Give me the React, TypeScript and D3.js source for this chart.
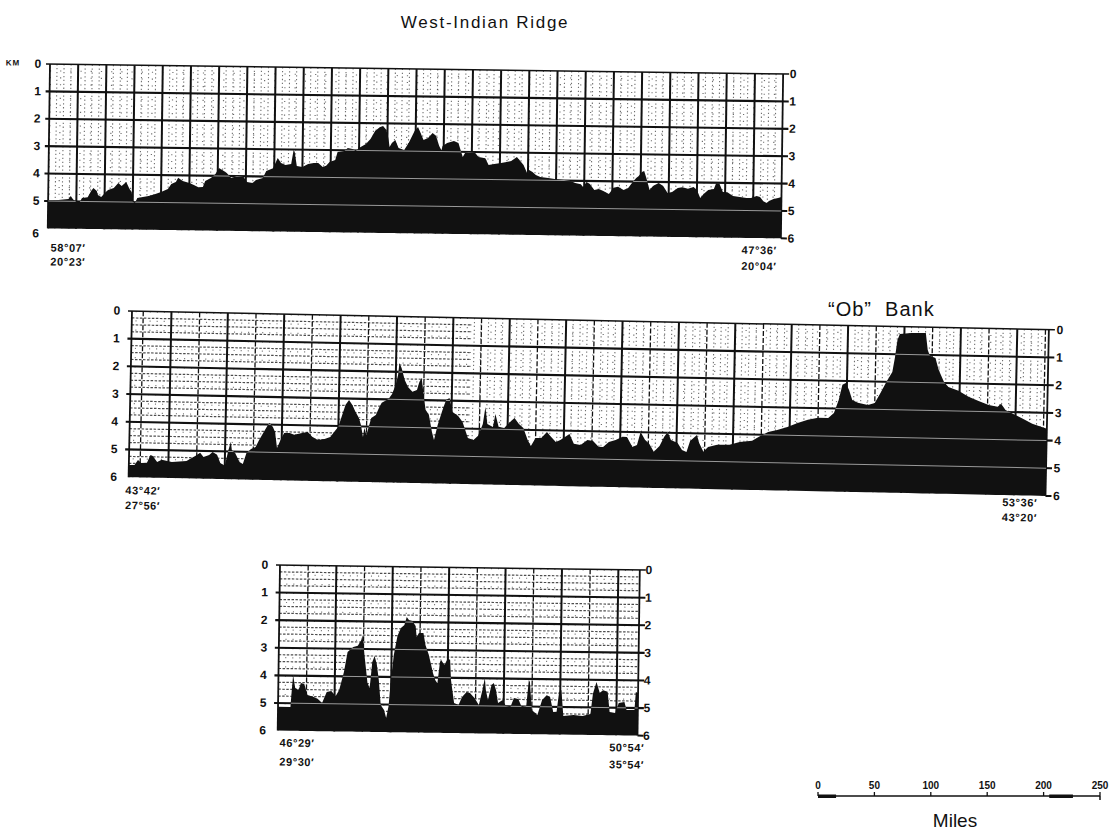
import React from "react";
import * as d3 from "d3";

// Echo-sounding profiles: [along-track distance (miles), depth (km)]
const ridgeProfile: [number, number][] = [
  [0,4.96],[9,4.96],[18,4.92],[20,4.81],[22,4.92],[25,5.02],[28,5.02],[30,4.87],[35,4.84],[38,4.61],[40,4.50],[43,4.61],[44,4.76],[47,4.83],[51,4.64],[53,4.57],[58,4.49],[62,4.31],[65,4.42],[69,4.27],[72,4.52],[74,4.63],[75,4.99],[77,5.03],[79,4.85],[84,4.81],[89,4.77],[95,4.69],[100,4.62],[106,4.50],[109,4.32],[113,4.24],[115,4.09],[119,4.20],[122,4.24],[125,4.27],[129,4.34],[133,4.42],[137,4.41],[139,4.19],[144,4.08],[148,3.93],[151,3.71],[154,3.78],[158,3.89],[162,4.07],[167,3.99],[173,4.03],[176,4.21],[181,4.24],[184,4.13],[190,4.05],[193,3.80],[199,3.69],[203,3.32],[206,3.50],[210,3.57],[215,3.53],[217,3.02],[218,3.09],[220,3.60],[225,3.63],[230,3.52],[235,3.48],[239,3.48],[243,3.62],[246,3.58],[249,3.44],[254,3.36],[256,3.07],[262,3.03],[265,2.92],[269,2.95],[272,3.02],[276,2.88],[281,2.76],[285,2.58],[289,2.28],[293,2.14],[296,2.10],[299,2.24],[301,2.57],[302,2.86],[304,2.71],[307,2.60],[310,2.89],[315,2.96],[319,2.70],[324,2.26],[327,2.12],[329,2.30],[332,2.59],[336,2.51],[340,2.33],[343,2.43],[346,2.80],[348,2.95],[349,2.80],[353,2.69],[359,2.61],[363,2.68],[365,2.93],[367,3.19],[369,3.04],[372,3.00],[378,3.04],[381,3.18],[387,3.22],[390,3.47],[395,3.43],[401,3.39],[406,3.35],[410,3.31],[415,3.16],[418,3.31],[421,3.45],[425,3.81],[426,3.63],[429,3.70],[432,3.81],[436,3.88],[443,3.91],[450,3.95],[457,3.98],[463,4.01],[467,4.08],[472,4.12],[474,4.22],[477,4.04],[480,4.11],[484,4.33],[488,4.29],[492,4.36],[497,4.47],[501,4.24],[505,4.20],[510,4.31],[514,4.24],[518,4.02],[521,3.87],[523,3.80],[526,3.65],[528,3.61],[530,3.86],[533,4.30],[536,4.15],[541,4.04],[545,4.15],[549,4.40],[553,4.36],[558,4.21],[562,4.18],[567,4.24],[572,4.17],[575,4.28],[578,4.57],[581,4.42],[585,4.27],[590,4.23],[592,4.01],[595,4.05],[598,4.34],[602,4.34],[607,4.48],[613,4.51],[619,4.54],[623,4.54],[628,4.47],[631,4.50],[634,4.65],[637,4.72],[639,4.64],[643,4.57],[647,4.53],[650,4.49],
];

const obBankProfile: [number, number][] = [
  [0,5.56],[5,5.56],[8,5.37],[11,5.48],[16,5.47],[19,5.18],[21,5.22],[25,5.43],[29,5.35],[38,5.42],[51,5.37],[59,5.18],[63,5.07],[66,5.22],[71,5.14],[74,5.03],[78,5.13],[81,5.42],[85,5.52],[88,4.95],[90,4.65],[91,4.94],[94,5.05],[98,5.37],[101,5.44],[104,5.04],[108,4.89],[112,4.82],[115,4.56],[119,4.27],[122,4.05],[124,3.94],[127,4.08],[129,4.26],[131,4.84],[134,4.55],[137,4.29],[142,4.29],[146,4.35],[153,4.28],[158,4.24],[162,4.41],[167,4.52],[173,4.48],[178,4.40],[182,4.18],[185,4.03],[189,3.49],[191,3.23],[194,3.05],[197,3.23],[200,3.48],[203,3.69],[205,3.95],[207,4.38],[208,4.05],[210,4.30],[214,3.69],[218,3.57],[221,3.28],[223,3.13],[229,2.99],[232,2.80],[235,2.48],[237,2.11],[238,1.68],[240,1.86],[243,2.29],[246,2.54],[250,2.71],[254,2.64],[256,2.35],[258,2.20],[260,2.82],[262,3.35],[265,3.53],[268,4.14],[270,4.43],[273,3.89],[277,3.34],[280,2.98],[283,2.91],[286,3.41],[291,3.55],[295,3.76],[300,4.34],[305,4.40],[309,4.25],[313,3.82],[315,3.20],[317,3.82],[322,3.92],[324,3.45],[327,3.91],[332,3.95],[338,3.69],[341,3.58],[345,3.79],[349,3.93],[353,4.36],[356,4.58],[360,4.29],[365,4.28],[370,4.06],[373,4.20],[378,4.42],[382,4.34],[390,4.12],[394,4.47],[400,4.51],[406,4.32],[411,4.35],[416,4.56],[420,4.56],[425,4.38],[431,4.30],[437,4.18],[441,4.18],[446,4.54],[450,4.46],[453,3.99],[457,4.27],[461,4.42],[465,4.70],[470,4.48],[474,4.15],[477,3.97],[480,4.26],[486,4.36],[490,4.61],[494,4.68],[497,4.28],[503,4.06],[505,4.34],[509,4.66],[513,4.48],[521,4.40],[532,4.39],[541,4.28],[552,4.23],[558,4.08],[566,3.90],[574,3.82],[583,3.70],[592,3.55],[601,3.43],[610,3.35],[619,3.35],[624,3.16],[628,2.69],[631,2.14],[634,2.07],[637,2.32],[640,2.68],[645,2.78],[654,2.85],[660,2.77],[665,2.40],[670,2.00],[675,1.64],[677,1.13],[679,0.48],[681,0.26],[691,0.22],[704,0.21],[706,0.82],[708,1.03],[713,1.10],[716,1.53],[721,1.96],[725,2.14],[734,2.27],[743,2.48],[752,2.62],[761,2.76],[769,2.82],[772,2.71],[776,2.93],[783,3.07],[792,3.24],[800,3.41],[813,3.58],
];

const southProfile: [number, number][] = [
  [0,5.14],[11,5.14],[12,4.52],[13,3.98],[15,4.45],[18,4.52],[20,4.26],[23,4.30],[26,4.70],[31,4.76],[35,4.83],[39,4.98],[43,4.58],[47,4.54],[51,4.72],[54,4.50],[58,3.84],[61,3.12],[66,2.93],[70,2.89],[73,2.68],[74,2.49],[76,3.22],[79,4.23],[81,4.41],[83,3.47],[85,3.25],[87,3.54],[89,4.12],[91,5.02],[94,5.20],[96,5.49],[98,5.05],[99,4.47],[102,3.20],[105,2.51],[108,2.22],[111,2.11],[113,1.82],[115,1.93],[118,1.96],[121,2.14],[122,2.54],[124,2.39],[128,2.39],[130,2.83],[133,3.18],[137,3.84],[139,4.09],[141,4.20],[143,3.43],[144,3.36],[147,3.54],[150,3.29],[152,3.36],[153,4.08],[156,4.91],[160,4.98],[163,4.69],[167,4.51],[170,4.54],[174,4.72],[178,4.97],[181,4.43],[183,3.99],[184,4.42],[186,4.79],[189,4.24],[191,4.17],[193,4.42],[195,4.89],[199,4.78],[202,4.99],[206,5.03],[209,4.70],[213,4.74],[216,5.02],[220,4.99],[222,4.04],[223,4.11],[225,5.13],[230,5.30],[234,4.76],[238,4.58],[241,4.64],[244,5.19],[247,5.18],[249,4.46],[251,4.39],[253,5.33],[262,5.29],[270,5.32],[277,5.24],[279,4.51],[282,4.08],[285,4.47],[288,4.37],[292,4.43],[294,5.16],[299,5.19],[302,4.83],[307,4.79],[309,5.08],[316,5.07],[317,4.42],[319,4.46],
];

const depthTicks = [0, 1, 2, 3, 4, 5, 6];
const ridgeEnds = { left: ["58°07′", "20°23′"], right: ["47°36′", "20°04′"] };
const obEnds = { left: ["43°42′", "27°56′"], right: ["53°36′", "43°20′"] };
const southEnds = { left: ["46°29′", "29°30′"], right: ["50°54′", "35°54′"] };
const scaleTicks = [0, 50, 100, 150, 200, 250];

const PX_PER_MILE = 1.128;
const GRID_MILES = 25;
const INK = "#111";
const LABEL_FONT = "'Liberation Sans', Arial, sans-serif";

type PanelCfg = {
  id: string;
  profile: [number, number][];
  length: number;
  x0: number;
  y0: number;
  kmPx: number;
  angle: number;
  gridOffset: number;
  alternate: "none" | "oddHeavy" | "evenHeavy";
  denseFrom: number; // mile where the fine dotted ruling becomes dense
  ends: { left: string[]; right: string[] };
  leftLabelX: number;
  rightLabelDx: number;
  endDy: { left: number[]; right: number[] };
  endRightDx: number;
  endLeftDx: number;
  km?: boolean;
};

const panels: PanelCfg[] = [
  {
    id: "ridge", profile: ridgeProfile, length: 650, x0: 50, y0: 64, kmPx: 27.4, angle: 0.78,
    gridOffset: 0, alternate: "none", denseFrom: 0, ends: ridgeEnds,
    leftLabelX: -12, rightLabelDx: 10, endDy: { left: [23, 37], right: [16, 32] },
    endRightDx: -4, endLeftDx: 3, km: true,
  },
  {
    id: "ob", profile: obBankProfile, length: 813, x0: 132, y0: 311, kmPx: 27.7, angle: 1.17,
    gridOffset: 10, alternate: "oddHeavy", denseFrom: 300, ends: obEnds,
    leftLabelX: -15, rightLabelDx: 11, endDy: { left: [17, 32], right: [11, 26] },
    endRightDx: -8, endLeftDx: -3,
  },
  {
    id: "south", profile: southProfile, length: 319, x0: 280, y0: 565, kmPx: 27.6, angle: 0.8,
    gridOffset: 0, alternate: "evenHeavy", denseFrom: 10000, ends: southEnds,
    leftLabelX: -15, rightLabelDx: 9, endDy: { left: [16, 35], right: [16, 33] },
    endRightDx: 7, endLeftDx: 2,
  },
];

function Panel({ cfg }: { cfg: PanelCfg }) {
  const w = cfg.length * PX_PER_MILE;
  const h = 6 * cfg.kmPx;
  const x = d3.scaleLinear().domain([0, cfg.length]).range([0, w]);
  const y = d3.scaleLinear().domain([0, 6]).range([0, h]);
  const area = d3
    .area<[number, number]>()
    .x((d) => x(d[0]))
    .y0(y(6))
    .y1((d) => y(d[1]));
  const seabed = area(cfg.profile) || "";

  // major vertical rulings every 25 miles
  const majors: { m: number; k: number }[] = [];
  for (let k = 0; cfg.gridOffset + k * GRID_MILES < cfg.length - 2; k++) {
    const m = cfg.gridOffset + k * GRID_MILES;
    if (m > 1) majors.push({ m, k });
  }
  // fine vertical rulings (quarter cells)
  const minorV: number[] = [];
  const step = GRID_MILES / 4;
  for (let i = -8; ; i++) {
    const m = cfg.gridOffset + i * step;
    if (m >= cfg.length - 1) break;
    if (m <= 1 || ((i % 4) + 4) % 4 === 0) continue;
    minorV.push(m);
  }
  const minorH = d3.range(0.25, 6, 0.25).filter((d) => Math.abs(d - Math.round(d)) > 0.01);
  const denseX = Math.min(w, x(Math.min(cfg.denseFrom, cfg.length)));

  const isHeavy = (k: number) =>
    cfg.alternate === "none" ? true : cfg.alternate === "oddHeavy" ? k % 2 === 1 : k % 2 === 0;

  return (
    <g transform={`translate(${cfg.x0},${cfg.y0}) rotate(${cfg.angle})`}>
      <defs>
        <clipPath id={`bed-${cfg.id}`}>
          <path d={seabed} />
        </clipPath>
      </defs>

      {/* fine dotted ruling */}
      <g stroke={INK} fill="none">
        {minorH.map((d) => (
          <g key={`mh${d}`}>
            {denseX > 0 && (
              <line x1={0} x2={denseX} y1={y(d)} y2={y(d)} strokeWidth={1.2} strokeDasharray="2.5 1.5" opacity={0.75} />
            )}
            {denseX < w && (
              <line x1={denseX} x2={w} y1={y(d)} y2={y(d)} strokeWidth={1.1} strokeDasharray="1.2 9" opacity={0.6} />
            )}
          </g>
        ))}
        {minorV.map((m) => (
          <line
            key={`mv${m}`}
            x1={x(m)} x2={x(m)} y1={0} y2={h}
            strokeWidth={1.1}
            strokeDasharray={m >= cfg.denseFrom ? "1.3 2.6" : "1.2 8"}
            opacity={m >= cfg.denseFrom ? 0.6 : 0.55}
          />
        ))}
      </g>

      {/* major ruling */}
      <g stroke={INK} fill="none">
        {majors.map(({ m, k }) => (
          <line
            key={`v${m}`}
            x1={x(m)} x2={x(m)} y1={0} y2={h}
            strokeWidth={isHeavy(k) ? 2 : 1.3}
            strokeDasharray={isHeavy(k) ? undefined : "5 2"}
          />
        ))}
        {depthTicks.slice(0, 6).map((d) => (
          <line key={`h${d}`} x1={-4} x2={w + 6} y1={y(d)} y2={y(d)} strokeWidth={d === 0 ? 1.5 : 2.1} />
        ))}
        <line x1={0} x2={0} y1={0} y2={h} strokeWidth={1.8} />
        <line x1={w} x2={w} y1={0} y2={h} strokeWidth={1.8} />
        <line x1={w} x2={w + 6} y1={h} y2={h} strokeWidth={2} />
      </g>

      {/* sea floor */}
      <path d={seabed} fill={INK} />
      <g clipPath={`url(#bed-${cfg.id})`} stroke="#9a9a9a" strokeWidth={1}>
        {depthTicks.slice(1, 6).map((d) => (
          <line key={`g${d}`} x1={0} x2={w} y1={y(d)} y2={y(d)} />
        ))}
      </g>

      {/* depth labels */}
      <g fontFamily={LABEL_FONT} fontWeight="bold" fontSize={12} fill={INK} textAnchor="middle">
        {depthTicks.map((d) => (
          <text key={`l${d}`} x={cfg.leftLabelX} y={y(d) + 4 + (d === 6 && cfg.km ? 5 : 0)}>
            {d}
          </text>
        ))}
        {depthTicks.map((d) => (
          <text key={`r${d}`} x={w + cfg.rightLabelDx} y={y(d) + 4}>
            {d}
          </text>
        ))}
        {cfg.km && (
          <text x={-37} y={y(0) + 2} fontSize={8} letterSpacing={1}>
            KM
          </text>
        )}
      </g>

      {/* end positions */}
      <g fontFamily={LABEL_FONT} fontWeight="bold" fontSize={11} fill={INK} letterSpacing={0.6}>
        {cfg.ends.left.map((t, i) => (
          <text key={`el${i}`} x={cfg.endLeftDx} y={h + cfg.endDy.left[i]}>
            {t}
          </text>
        ))}
        {cfg.ends.right.map((t, i) => (
          <text key={`er${i}`} x={w + cfg.endRightDx} y={h + cfg.endDy.right[i]} textAnchor="end">
            {t}
          </text>
        ))}
      </g>
    </g>
  );
}

function ScaleBar() {
  const sx = d3.scaleLinear().domain([0, 250]).range([818, 1100]);
  const yBar = 796;
  const thick: [number, number][] = [
    [0, 16],
    [205, 226],
  ];
  return (
    <g>
      <line x1={sx(0)} x2={sx(250)} y1={yBar} y2={yBar} stroke={INK} strokeWidth={1.6} />
      {thick.map(([a, b]) => (
        <rect key={a} x={sx(a)} y={yBar - 1.5} width={sx(b) - sx(a)} height={3.5} fill={INK} />
      ))}
      {scaleTicks.map((t) => (
        <line key={`t${t}`} x1={sx(t)} x2={sx(t)} y1={yBar - 4} y2={yBar} stroke={INK} strokeWidth={1.3} />
      ))}
      <line x1={sx(250)} x2={sx(250)} y1={yBar} y2={yBar + 4} stroke={INK} strokeWidth={1.5} />
      <g fontFamily={LABEL_FONT} fontWeight="bold" fontSize={10} fill={INK} textAnchor="middle">
        {scaleTicks.map((t) => (
          <text key={`s${t}`} x={sx(t)} y={789}>
            {t}
          </text>
        ))}
      </g>
      <text x={955} y={827} fontFamily={LABEL_FONT} fontSize={19} fill={INK} textAnchor="middle">
        Miles
      </text>
    </g>
  );
}

export default function App() {
  return (
    <svg
      width={1118}
      height={833}
      viewBox="0 0 1118 833"
      style={{ display: "block", position: "absolute", left: 0, top: 0, background: "#fff" }}
    >
      <rect width={1118} height={833} fill="#fff" />
      <text x={485} y={28} fontFamily={LABEL_FONT} fontSize={17} letterSpacing={1.7} fill={INK} textAnchor="middle">
        West-Indian Ridge
      </text>
      <text x={828} y={316} fontFamily={LABEL_FONT} fontSize={20} letterSpacing={1} fill={INK} style={{ whiteSpace: "pre" }}>
        {"“Ob”  Bank"}
      </text>
      {panels.map((p) => (
        <Panel key={p.id} cfg={p} />
      ))}
      <ScaleBar />
    </svg>
  );
}
